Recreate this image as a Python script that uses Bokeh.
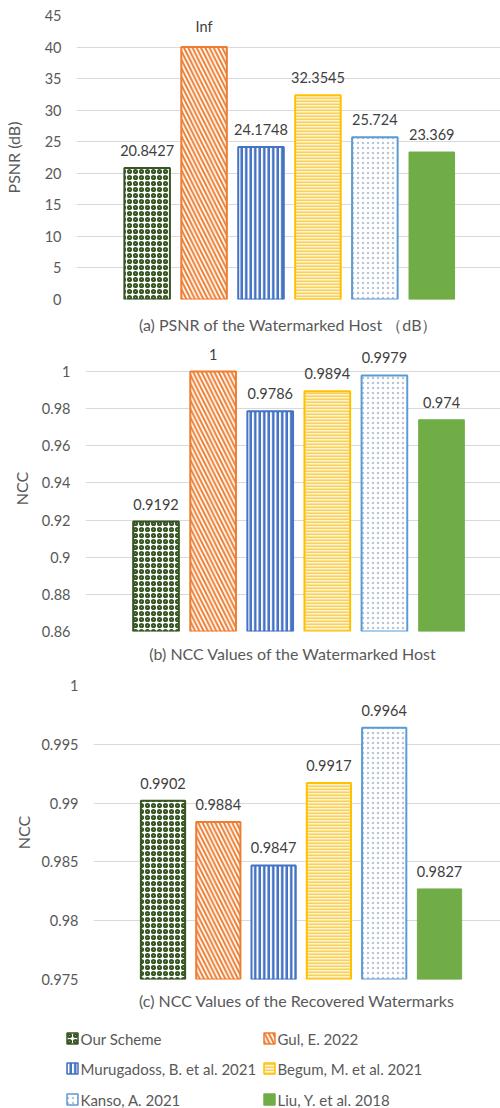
from bokeh.plotting import figure
from bokeh.layouts import column
from bokeh.models import FixedTicker, ColumnDataSource, Range1d
from bokeh.core.properties import value
from bokeh.embed import file_html
from bokeh.resources import INLINE

# ---- data -------------------------------------------------------------
schemes = [
    "Our Scheme",
    "Gul, E. 2022",
    "Murugadoss, B. et al. 2021",
    "Begum, M. et al. 2021",
    "Kanso, A. 2021",
    "Liu, Y. et al. 2018",
]

# PSNR (dB); Gul's scheme reports Inf, drawn at the 40 dB cap
psnr_values = [20.8427, 40, 24.1748, 32.3545, 25.724, 23.369]
psnr_labels = ["20.8427", "Inf", "24.1748", "32.3545", "25.724", "23.369"]

ncc_host_values = [0.9192, 1.0, 0.9786, 0.9894, 0.9979, 0.974]
ncc_host_labels = ["0.9192", "1", "0.9786", "0.9894", "0.9979", "0.974"]

ncc_wm_values = [0.9902, 0.9884, 0.9847, 0.9917, 0.9964, 0.9827]
ncc_wm_labels = ["0.9902", "0.9884", "0.9847", "0.9917", "0.9964", "0.9827"]

psnr_ticks = [0, 5, 10, 15, 20, 25, 30, 35, 40, 45]
psnr_tick_labels = ["0", "5", "10", "15", "20", "25", "30", "35", "40", "45"]
ncc_host_ticks = [0.86, 0.88, 0.9, 0.92, 0.94, 0.96, 0.98, 1.0]
ncc_host_tick_labels = ["0.86", "0.88", "0.9", "0.92", "0.94", "0.96", "0.98", "1"]
ncc_wm_ticks = [0.975, 0.98, 0.985, 0.99, 0.995, 1.0]
ncc_wm_tick_labels = ["0.975", "0.98", "0.985", "0.99", "0.995", "1"]

# ---- styling ----------------------------------------------------------
FONT = "Lato"
TXT = "#595959"
LBL = "#404040"
GRID = "#D9D9D9"
NUM_SIZE = "14.5px"
WORD_SIZE = "16px"
LEGEND_SIZE = "15px"

bar_styles = [
    dict(fill_color="white", line_color="#375623", line_width=2,
         hatch_pattern="ring", hatch_color="#375623", hatch_scale=6, hatch_weight=2.2),
    dict(fill_color="white", line_color="#ED7D31", line_width=2,
         hatch_pattern="left_diagonal_line", hatch_color="#ED7D31", hatch_scale=8.5, hatch_weight=2),
    dict(fill_color="white", line_color="#4472C4", line_width=2,
         hatch_pattern="vertical_line", hatch_color="#4472C4", hatch_scale=4.5, hatch_weight=2.5),
    dict(fill_color="#FFF3CF", line_color="#FFC000", line_width=2,
         hatch_pattern="horizontal_line", hatch_color="#F6D15C", hatch_scale=3, hatch_weight=2),
    dict(fill_color="white", line_color="#5B9BD5", line_width=2,
         hatch_pattern="dot", hatch_color="#B7C5D6", hatch_scale=5, hatch_weight=1),
    dict(fill_color="#70AD47", line_color="#70AD47", line_width=1),
]


def panel(values, labels, ticks, tick_labels, y_start, y_end, x_start, x_end,
          y_title, caption, height, border_left, border_top, border_bottom,
          tick_standoff, title_standoff, caption_standoff):
    p = figure(width=500, height=height, output_backend="svg", toolbar_location=None,
               x_range=Range1d(x_start, x_end), y_range=Range1d(y_start, y_end),
               min_border_left=border_left, min_border_right=0,
               min_border_top=border_top, min_border_bottom=border_bottom)
    p.outline_line_color = None
    p.background_fill_color = "white"
    p.border_fill_color = "white"

    for i, (v, style) in enumerate(zip(values, bar_styles)):
        src = ColumnDataSource(dict(x=[i], top=[v], bottom=[y_start]))
        p.vbar(x="x", top="top", bottom="bottom", width=0.8, source=src, **style)

    lab_src = ColumnDataSource(dict(x=list(range(len(values))), y=values, text=labels))
    p.text(x="x", y="y", text="text", source=lab_src, text_align="center",
           text_baseline="bottom", y_offset=-12, text_font=value(FONT),
           text_font_size=NUM_SIZE, text_color=LBL)

    # y axis
    p.yaxis.ticker = FixedTicker(ticks=ticks)
    p.yaxis.major_label_overrides = dict(zip(ticks, tick_labels))
    p.yaxis.axis_line_color = None
    p.yaxis.major_tick_line_color = None
    p.yaxis.minor_tick_line_color = None
    p.yaxis.major_tick_in = 0
    p.yaxis.major_tick_out = 0
    p.yaxis.major_label_standoff = tick_standoff
    p.yaxis.major_label_text_font = FONT
    p.yaxis.major_label_text_font_size = NUM_SIZE
    p.yaxis.major_label_text_color = TXT
    p.yaxis.axis_label = y_title
    p.yaxis.axis_label_text_font = FONT
    p.yaxis.axis_label_text_font_size = WORD_SIZE
    p.yaxis.axis_label_text_font_style = "normal"
    p.yaxis.axis_label_text_color = TXT
    p.yaxis.axis_label_standoff = title_standoff

    p.ygrid.ticker = FixedTicker(ticks=ticks)
    p.ygrid.grid_line_color = GRID
    p.xgrid.visible = False

    # x axis carries only the panel caption
    p.xaxis.ticker = FixedTicker(ticks=[])
    p.xaxis.axis_line_color = None
    p.xaxis.major_tick_line_color = None
    p.xaxis.minor_tick_line_color = None
    p.xaxis.major_tick_in = 0
    p.xaxis.major_tick_out = 0
    p.xaxis.axis_label = caption
    p.xaxis.axis_label_text_font = FONT
    p.xaxis.axis_label_text_font_size = WORD_SIZE
    p.xaxis.axis_label_text_font_style = "normal"
    p.xaxis.axis_label_text_color = TXT
    p.xaxis.axis_label_standoff = caption_standoff
    return p


pa = panel(psnr_values, psnr_labels, psnr_ticks, psnr_tick_labels,
           0, 45, -1.241, 6.207, "PSNR (dB)",
           "(a) PSNR of the Watermarked Host \uff08dB\uff09",
           340, 68, 15, 41, 15, 19, 15)

pb = panel(ncc_host_values, ncc_host_labels, ncc_host_ticks, ncc_host_tick_labels,
           0.86, 1.014, -1.235, 6.033, "NCC",
           "(b) NCC Values of the Watermarked Host",
           330, 85, 5, 39, 15, 8, 12)

pc = panel(ncc_wm_values, ncc_wm_labels, ncc_wm_ticks, ncc_wm_tick_labels,
           0.975, 1.0, -1.257, 6.103, "NCC",
           "(c) NCC Values of the Recovered Watermarks",
           350, 93, 15, 41, 15, 5, 11)

# ---- shared legend: two columns, filled row by row --------------------
LEG_H = 88
col_x = [66, 263]
row_y = [18, 48, 79]
pl = figure(width=500, height=LEG_H, output_backend="svg", toolbar_location=None,
            x_range=Range1d(0, 500), y_range=Range1d(LEG_H, 0),
            x_axis_location=None, y_axis_location=None,
            min_border=0, min_border_left=0, min_border_right=0,
            min_border_top=0, min_border_bottom=0)
pl.outline_line_color = None
pl.grid.visible = False
for i, (name, style) in enumerate(zip(schemes, bar_styles)):
    sx = col_x[i % 2]
    sy = row_y[i // 2]
    sw = dict(style)
    sw["line_width"] = 1.5
    pl.rect(x=[sx + 6], y=[sy], width=11, height=11, **sw)
    pl.text(x=[sx + 14], y=[sy], text=[name], text_baseline="middle",
            text_align="left", text_font=value(FONT), text_font_size=LEGEND_SIZE,
            text_color=TXT)

# each panel sits in its own box so the frames keep their own left edges
layout = column(column(pa), column(pb), column(pc), column(pl), spacing=0)

with open("out.html", "w") as f:
    f.write(file_html(layout, INLINE))
